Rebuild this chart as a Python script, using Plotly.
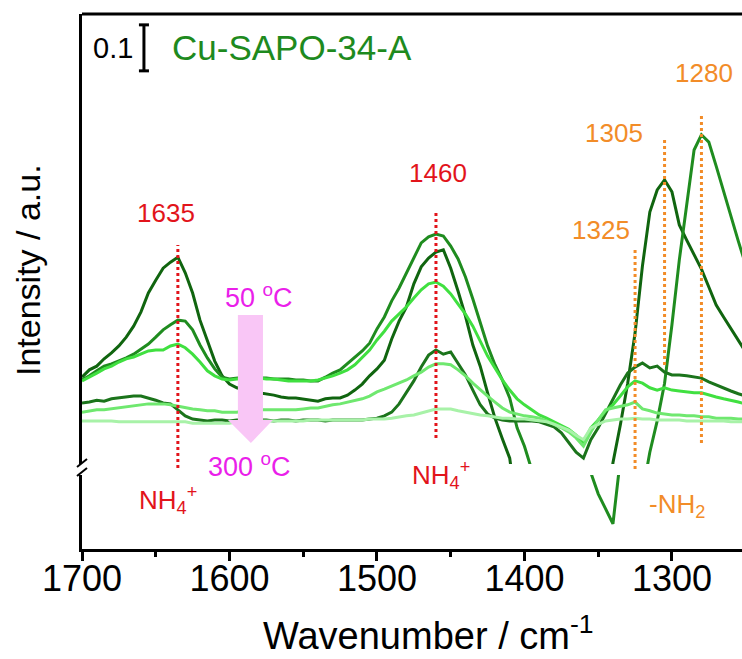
import plotly.graph_objects as go

# ---------------- data (wavenumber grid, cm-1) ----------------
wavenumber = list(range(1700, 1249, -5))

# intensities in a.u. (difference spectra, 50 -> 300 C)
c1 = [0.093, 0.109, 0.117, 0.133, 0.146, 0.161, 0.180, 0.204, 0.235, 0.276, 0.304, 0.330, 0.343, 0.354, 0.320, 0.276, 0.217, 0.172, 0.128, 0.096, 0.078,
      0.070, 0.065, 0.061, 0.059, 0.057, 0.054, 0.050, 0.048, 0.048, 0.046, 0.043, 0.041, 0.046, 0.048, 0.048, 0.054, 0.065, 0.078, 0.096, 0.111,
      0.130, 0.176, 0.215, 0.246, 0.296, 0.333, 0.352, 0.365, 0.370, 0.330, 0.280, 0.226, 0.163, 0.117, 0.059, 0.004, -0.041, -0.083, -0.20, -0.30,
      -0.37, -0.42, -0.45, -0.47, -0.48, -0.48, -0.46, -0.42, -0.36, -0.29, -0.21, -0.093, -0.011, 0.080, 0.189, 0.335, 0.452, 0.500, 0.522, 0.496,
      0.424, 0.391, 0.359, 0.328, 0.289, 0.250, 0.224, 0.198, 0.172, 0.148]
c2 = [0.087, 0.096, 0.107, 0.117, 0.122, 0.128, 0.135, 0.143, 0.154, 0.165, 0.180, 0.196, 0.207, 0.217, 0.215, 0.196, 0.163, 0.135, 0.111, 0.093, 0.089,
      0.091, 0.093, 0.093, 0.091, 0.091, 0.089, 0.089, 0.089, 0.087, 0.087, 0.085, 0.085, 0.093, 0.102, 0.109, 0.122, 0.135, 0.150, 0.167, 0.198,
      0.224, 0.259, 0.287, 0.320, 0.354, 0.385, 0.398, 0.404, 0.400, 0.378, 0.350, 0.311, 0.263, 0.211, 0.161, 0.120, 0.087, 0.048, -0.017, -0.057,
      -0.109, -0.25, -0.38, -0.48, -0.55, -0.595, -0.62, -0.632, -0.634, -0.680, -0.714, -0.745, -0.605, -0.45, -0.30, -0.16, -0.070, -0.002, 0.080, 0.207,
      0.348, 0.465, 0.587, 0.620, 0.604, 0.552, 0.496, 0.441, 0.389, 0.337]
c3 = [0.085, 0.093, 0.102, 0.111, 0.117, 0.126, 0.133, 0.137, 0.143, 0.150, 0.152, 0.152, 0.161, 0.165, 0.157, 0.143, 0.126, 0.107, 0.096, 0.089, 0.087,
      0.089, 0.089, 0.091, 0.091, 0.089, 0.089, 0.087, 0.085, 0.085, 0.085, 0.085, 0.087, 0.091, 0.096, 0.102, 0.109, 0.120, 0.137, 0.152, 0.174,
      0.193, 0.215, 0.230, 0.246, 0.265, 0.283, 0.296, 0.300, 0.291, 0.274, 0.252, 0.230, 0.204, 0.172, 0.139, 0.113, 0.087, 0.065, 0.046, 0.033,
      0.022, 0.011, 0.004, -0.004, -0.011, -0.020, -0.033, -0.050, -0.017, 0.000, 0.020, 0.033, 0.052, 0.072, 0.085, 0.080, 0.070, 0.065, 0.070, 0.065,
      0.063, 0.061, 0.059, 0.059, 0.054, 0.050, 0.046, 0.043, 0.039, 0.035]
c4 = [0.037, 0.039, 0.043, 0.041, 0.046, 0.048, 0.050, 0.052, 0.052, 0.048, 0.043, 0.037, 0.035, 0.022, 0.009, 0.002, 0.000, -0.002, 0.000, 0.000, -0.002,
      0.000, 0.000, -0.002, 0.000, 0.000, -0.002, 0.000, 0.000, -0.002, 0.000, 0.000, 0.000, -0.002, 0.000, 0.000, 0.000, 0.000, 0.000, 0.002, 0.004,
      0.009, 0.017, 0.035, 0.059, 0.085, 0.115, 0.141, 0.152, 0.143, 0.148, 0.122, 0.098, 0.065, 0.033, 0.013, 0.004, 0.000, -0.002, -0.002, -0.002,
      -0.002, -0.004, -0.009, -0.015, -0.028, -0.048, -0.070, -0.083, -0.043, -0.017, 0.013, 0.043, 0.076, 0.102, 0.115, 0.124, 0.113, 0.117, 0.104, 0.098,
      0.098, 0.096, 0.093, 0.091, 0.083, 0.076, 0.070, 0.063, 0.057, 0.052]
c5 = [0.017, 0.020, 0.022, 0.022, 0.024, 0.026, 0.028, 0.030, 0.033, 0.035, 0.035, 0.035, 0.033, 0.030, 0.026, 0.024, 0.022, 0.020, 0.020, 0.017, 0.017,
      0.017, 0.020, 0.020, 0.022, 0.022, 0.022, 0.022, 0.022, 0.022, 0.024, 0.026, 0.026, 0.030, 0.033, 0.035, 0.039, 0.043, 0.046, 0.052, 0.061,
      0.067, 0.074, 0.080, 0.087, 0.096, 0.104, 0.115, 0.122, 0.122, 0.120, 0.109, 0.096, 0.080, 0.065, 0.052, 0.039, 0.026, 0.017, 0.013, 0.009,
      0.007, 0.004, -0.002, -0.009, -0.017, -0.026, -0.039, -0.057, -0.026, 0.000, 0.022, 0.026, 0.030, 0.033, 0.039, 0.024, 0.020, 0.015, 0.013, 0.011,
      0.011, 0.009, 0.009, 0.007, 0.007, 0.004, 0.004, 0.004, 0.002, 0.002]
c6 = [-0.002, -0.002, -0.002, -0.002, -0.002, -0.004, -0.004, -0.004, -0.004, -0.004, -0.004, -0.004, -0.004, -0.004, -0.004, -0.007, -0.007, -0.007, -0.007, -0.007, -0.007,
      -0.004, -0.004, -0.002, -0.002, -0.002, -0.002, -0.002, -0.002, -0.002, -0.002, 0.000, 0.000, 0.000, 0.000, 0.000, 0.000, 0.000, 0.000, 0.002, 0.002,
      0.002, 0.004, 0.007, 0.009, 0.011, 0.015, 0.020, 0.024, 0.024, 0.024, 0.020, 0.017, 0.013, 0.011, 0.009, 0.007, 0.004, 0.004, 0.002, 0.002,
      0.000, -0.002, -0.004, -0.009, -0.015, -0.022, -0.033, -0.043, -0.017, -0.009, -0.002, 0.000, 0.002, 0.002, 0.004, 0.002, 0.002, 0.000, 0.000, 0.000,
      0.000, -0.002, -0.002, -0.002, -0.002, -0.002, -0.002, -0.004, -0.004, -0.004]

series = [  # (values, colour) in drawing order
    (c1, "#10650f"),
    (c2, "#1f8c1f"),
    (c4, "#1b741b"),
    (c3, "#40e040"),
    (c5, "#6fe86f"),
    (c6, "#a8f2a8"),
]

x_ticks = [1700, 1600, 1500, 1400, 1300]
x_minor = [1650, 1550, 1450, 1350]
x_range = [1700, 1252.5]
upper_range = [-0.0957, 0.8826]   # main panel
lower_range = [-0.800, -0.639]    # panel below the axis break
scale_bar = 0.1

peaks_red = [1635, 1460]
peaks_orange = [1325, 1305, 1280]

# ---------------- layout helpers ----------------
W, H = 742, 659
L, R, T, B = 82, 0, 14, 110
PW, PH = W - L - R, H - T - B


def px(x):
    return (x - L) / PW


def py(y):
    return (H - B - y) / PH


FONT = "Liberation Sans, Arial, sans-serif"
RED = "#e2141b"
ORANGE = "#f28c28"
MAGENTA = "#ea1fea"
GREEN_TXT = "#1e8a1e"
PINK = "#f9c6f6"

fig = go.Figure()
for vals, col in series:
    for yax in ("y", "y2"):
        fig.add_trace(go.Scatter(x=wavenumber, y=vals, mode="lines",
                                 line=dict(color=col, width=3),
                                 yaxis=yax, showlegend=False, hoverinfo="skip"))

shapes = []
# top frame line
shapes.append(dict(type="line", xref="paper", yref="paper", x0=0, x1=1, y0=1, y1=1,
                   line=dict(color="black", width=3)))
# axis break marks
for y0, y1 in ((467, 459), (476, 468)):
    shapes.append(dict(type="line", xref="paper", yref="paper",
                       x0=px(77), x1=px(87), y0=py(y0), y1=py(y1),
                       line=dict(color="black", width=2)))
# scale bar (0.1 a.u.)
sb_x, sb_top = 1658, 0.859
shapes.append(dict(type="line", xref="x", yref="y", x0=sb_x, x1=sb_x,
                   y0=sb_top - scale_bar, y1=sb_top, line=dict(color="black", width=3)))
for yy in (sb_top - scale_bar, sb_top):
    shapes.append(dict(type="line", xref="x", yref="y", x0=sb_x + 3.4, x1=sb_x - 3.4,
                       y0=yy, y1=yy, line=dict(color="black", width=3)))
# dotted peak markers
red_spans = [(245, 468), (210, 438)]
for w, (a, b) in zip(peaks_red, red_spans):
    shapes.append(dict(type="line", xref="x", yref="paper", x0=w, x1=w, y0=py(b), y1=py(a),
                       line=dict(color=RED, width=3, dash="dot")))
orange_spans = [(248, 469), (138, 365), (115, 443)]
for w, (a, b) in zip(peaks_orange, orange_spans):
    shapes.append(dict(type="line", xref="x", yref="paper", x0=w, x1=w, y0=py(b), y1=py(a),
                       line=dict(color=ORANGE, width=3, dash="dot")))
# temperature arrow (50 -> 300 C), drawn over the spectra
shapes.append(dict(type="rect", xref="x", yref="paper", x0=1594.3, x1=1577.3,
                   y0=py(421), y1=py(315), fillcolor=PINK, line=dict(width=0), layer="above"))
shapes.append(dict(type="path", xref="x", yref="paper",
                   path=f"M 1601.1,{py(420)} L 1570.6,{py(420)} L 1585.5,{py(443)} Z",
                   fillcolor=PINK, line=dict(width=0), layer="above"))

ann = []


def text(s, x, y, size, color, xanchor="center", angle=0):
    ann.append(dict(text=s, xref="paper", yref="paper", x=px(x), y=py(y),
                    xanchor=xanchor, yanchor="middle", showarrow=False, textangle=angle,
                    font=dict(family=FONT, size=size, color=color)))


text("0.1", 113, 48, 29, "black")
text("Cu-SAPO-34-A", 170, 48, 35, GREEN_TXT, xanchor="left")
text(str(peaks_red[0]), 166, 213, 26, RED)
text(str(peaks_red[1]), 438, 173, 26, RED)
text(str(peaks_orange[0]), 601, 230, 26, ORANGE)
text(str(peaks_orange[1]), 614, 133, 26, ORANGE)
text(str(peaks_orange[2]), 704, 73, 26, ORANGE)
text("NH<sub>4</sub><sup>+</sup>", 168, 500, 26, RED)
text("NH<sub>4</sub><sup>+</sup>", 441, 475, 26, RED)
text("-NH<sub>2</sub>", 677, 505, 26, ORANGE)
text("50 <sup>o</sup>C", 259, 296, 27, MAGENTA)
text("300 <sup>o</sup>C", 249, 465, 27, MAGENTA)
text("Intensity / a.u.", 28, 270, 34, "black", angle=-90)
text("Wavenumber / cm<sup>-1</sup>", 428, 633, 38, "black")

axis_common = dict(showgrid=False, zeroline=False, showline=True, linecolor="black",
                   linewidth=3, ticks="", showticklabels=False)

fig.update_layout(
    width=W, height=H,
    margin=dict(l=L, r=R, t=T, b=B, pad=0),
    paper_bgcolor="white", plot_bgcolor="white",
    font=dict(family=FONT, color="black"),
    xaxis=dict(range=x_range, anchor="y2", showgrid=False, zeroline=False,
               showline=True, linecolor="black", linewidth=3,
               tickmode="array", tickvals=x_ticks, ticks="outside", ticklen=9,
               tickwidth=3, tickcolor="black", tickfont=dict(size=36, family=FONT),
               ticklabelstandoff=-13,
               minor=dict(tickmode="array", tickvals=x_minor,
                          ticks="outside", ticklen=5, tickwidth=3, tickcolor="black")),
    yaxis=dict(domain=[py(464), 1], range=upper_range, anchor="x", **axis_common),
    yaxis2=dict(domain=[0, py(475)], range=lower_range, anchor="x", **axis_common),
    shapes=shapes, annotations=ann,
)

fig.write_html("out.html")
